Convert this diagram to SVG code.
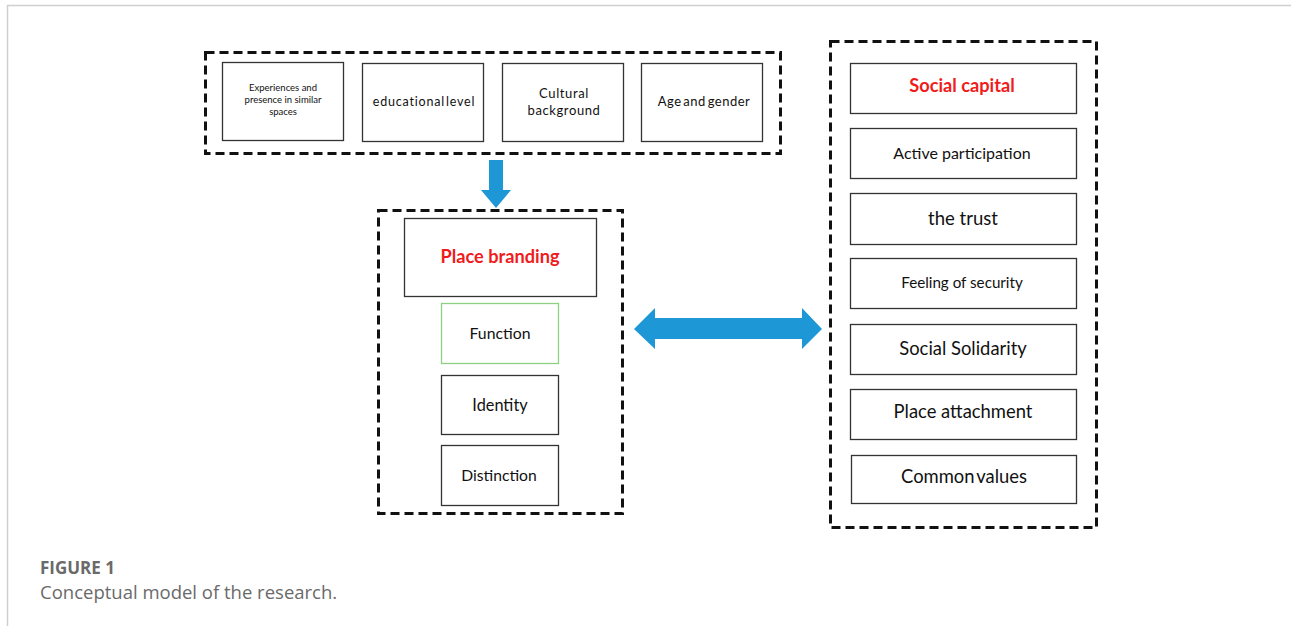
<svg xmlns="http://www.w3.org/2000/svg" width="1291" height="626" viewBox="0 0 1291 626">
<style>
.frame{fill:none;stroke:#cfcfcf;stroke-width:1.5}
.dash{fill:none;stroke:#111;stroke-width:3;stroke-dasharray:9 5}
.box{fill:#fff;stroke:#333;stroke-width:1.3}
.gbox{fill:#fff;stroke:#8fcf84;stroke-width:1.3}
.t{font-family:Lato,"Liberation Sans",sans-serif;fill:#111;text-anchor:middle}
.red{fill:#f01c1c;font-weight:bold}
.arrow{fill:#1d97d5}
.cap{font-family:"Open Sans",Lato,sans-serif;fill:#6a6a6a}
</style>
<rect width="1291" height="626" fill="#fff"/>
<path class="frame" d="M7.5 626 V5.5 H1291"/>

<g id="group-top">
<rect class="dash" x="205.5" y="52.5" width="575" height="101"/>
</g>
<g id="node-experiences">
<rect class="box" x="222.5" y="62.5" width="121" height="78"/>
<text class="t" font-size="9.5" x="283" y="91">Experiences and</text>
<text class="t" font-size="9.5" x="283" y="103">presence in similar</text>
<text class="t" font-size="9.5" x="283" y="115">spaces</text>
</g>
<g id="node-education">
<rect class="box" x="362.5" y="63.5" width="121" height="78"/>
<text class="t" font-size="12.5" x="424" y="106" letter-spacing="0.8" word-spacing="-3">educational level</text>
</g>
<g id="node-cultural">
<rect class="box" x="502.5" y="63.5" width="121" height="78"/>
<text class="t" font-size="13" x="564" y="98" letter-spacing="0.6">Cultural</text>
<text class="t" font-size="13" x="564" y="115" letter-spacing="0.6">background</text>
</g>
<g id="node-age">
<rect class="box" x="641.5" y="63.5" width="121" height="78"/>
<text class="t" font-size="13" x="704" y="106" letter-spacing="0.5" word-spacing="-2">Age and gender</text>
</g>

<g id="group-place">
<rect class="dash" x="378.5" y="210.5" width="244" height="303"/>
</g>
<g id="node-place-branding">
<rect class="box" x="404.5" y="218.5" width="192" height="78"/>
<text class="t red" font-size="18.2" x="500" y="263">Place branding</text>
</g>
<g id="node-function">
<rect class="gbox" x="441.5" y="303.5" width="117" height="60"/>
<text class="t" font-size="15.8" x="500" y="339">Function</text>
</g>
<g id="node-identity">
<rect class="box" x="441.5" y="375.5" width="117" height="59"/>
<text class="t" font-size="16.3" x="500" y="411">Identity</text>
</g>
<g id="node-distinction">
<rect class="box" x="441.5" y="445.5" width="117" height="60"/>
<text class="t" font-size="15.7" x="499" y="481">Distinction</text>
</g>

<g id="group-social">
<rect class="dash" x="830.5" y="41.5" width="266" height="486"/>
</g>
<g id="node-social-capital">
<rect class="box" x="850.5" y="63.5" width="226" height="50"/>
<text class="t red" font-size="18.2" x="962" y="92">Social capital</text>
</g>
<g id="node-active">
<rect class="box" x="850.5" y="128.5" width="226" height="50"/>
<text class="t" font-size="16" x="962" y="159">Active participation</text>
</g>
<g id="node-trust">
<rect class="box" x="850.5" y="193.5" width="226" height="51"/>
<text class="t" font-size="18.5" x="963" y="225">the trust</text>
</g>
<g id="node-security">
<rect class="box" x="850.5" y="258.5" width="226" height="50"/>
<text class="t" font-size="15.2" x="962" y="288">Feeling of security</text>
</g>
<g id="node-solidarity">
<rect class="box" x="850.5" y="324.5" width="226" height="50"/>
<text class="t" font-size="18.4" x="963" y="355">Social Solidarity</text>
</g>
<g id="node-attachment">
<rect class="box" x="850.5" y="389.5" width="226" height="50"/>
<text class="t" font-size="18.4" x="963" y="418">Place attachment</text>
</g>
<g id="node-common">
<rect class="box" x="851.5" y="455.5" width="225" height="48"/>
<text class="t" font-size="18.4" x="964" y="483" word-spacing="-2.5">Common values</text>
</g>

<g id="connectors">
<polygon class="arrow" points="489,160 503,160 503,190 511,190 496,208 481,190 489,190"/>
<polygon class="arrow" points="634,329 655,308 655,318 802,318 802,308 822,329 802,349 802,339 655,339 655,349"/>
</g>

<text class="cap" font-size="17" font-weight="bold" x="40" y="574">FIGURE 1</text>
<text class="cap" font-size="18.5" x="40" y="599">Conceptual model of the research.</text>
</svg>
